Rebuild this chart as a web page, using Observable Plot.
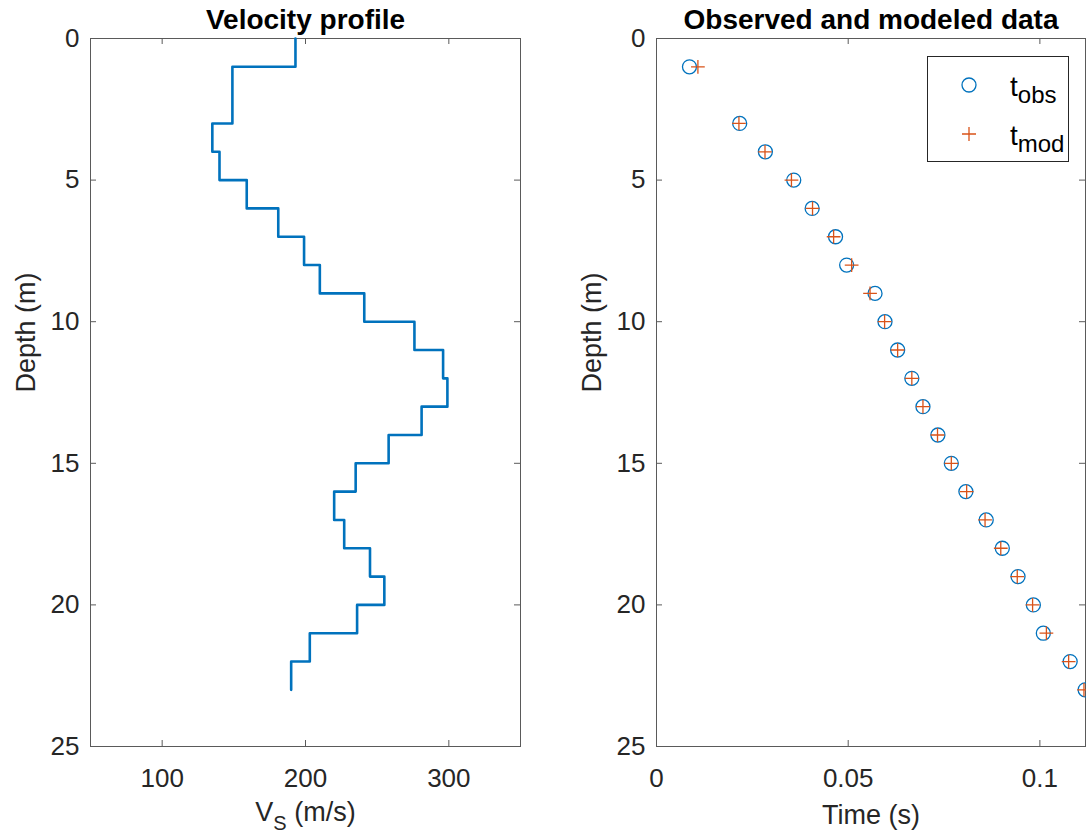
<!DOCTYPE html>
<html>
<head>
<meta charset="utf-8">
<script src="https://cdn.jsdelivr.net/npm/d3@7"></script>
<script src="https://cdn.jsdelivr.net/npm/@observablehq/plot@0.6"></script>
<style>
html, body { margin: 0; padding: 0; background: #fff; }
#wrap { position: relative; width: 1086px; height: 836px; overflow: hidden; display: flex; font-family: "Liberation Sans", Arial, sans-serif; }
#wrap > div { flex: none; }
#legend { position: absolute; left: 927px; top: 56px; }
</style>
</head>
<body>
<div id="wrap"><div id="left"></div><div id="right"></div><div id="legend"></div></div>
<script>
// ---- data ----
const layerBoundaries = [0, 1, 3, 4, 5, 6, 7, 8, 9, 10, 11, 12, 13, 14, 15, 16, 17, 18, 19, 20, 21, 22, 23];
const vs = [193, 149, 135, 140, 159, 181, 199, 210, 241, 276, 296, 299, 281, 258, 235, 220, 227, 245, 255, 236, 203, 190];
const obsDepths = [1, 3, 4, 5, 6, 7, 8, 9, 10, 11, 12, 13, 14, 15, 16, 17, 18, 19, 20, 21, 22, 23];
const tObs = [0.0086, 0.0217, 0.0284, 0.0358, 0.0406, 0.0467, 0.0496, 0.0570, 0.0596, 0.0629, 0.0666, 0.0695, 0.0734, 0.0769, 0.0807, 0.0860, 0.0902, 0.0943, 0.0983, 0.1009, 0.1079, 0.1118];
const tMod = [0.0108, 0.0215, 0.0283, 0.0352, 0.0407, 0.0462, 0.0509, 0.0557, 0.0595, 0.0629, 0.0666, 0.0695, 0.0733, 0.0769, 0.0809, 0.0857, 0.0898, 0.0941, 0.0981, 0.1017, 0.1075, 0.1115];
const depthTicks = [0, 5, 10, 15, 20, 25];
const vsTicks = [100, 200, 300];
const timeTicks = [0, 0.05, 0.1];
const titles = ["Velocity profile", "Observed and modeled data"];
const yLabel = "Depth (m)";
const xLabels = ["VS (m/s)", "Time (s)"];
const legendLabels = [["t", "obs"], ["t", "mod"]];

// ---- styling ----
const BLUE = "#0072BD", ORANGE = "#D95319", AXIS = "#262626", FRAME = "#5a5a5a";
const W = 543, H = 836, MT = 38, MB = 90;
const PH = H - MT - MB;

const profile = [];
vs.forEach((v, i) => {
  profile.push({v, d: layerBoundaries[i]});
  profile.push({v, d: layerBoundaries[i + 1]});
});
const times = obsDepths.map((d, i) => ({d, obs: tObs[i], mod: tMod[i]}));

function panel({ml, mr, xDomain, xTicks, title, xLabel, xLabelDy, data}) {
  const PW = W - ml - mr;
  return Plot.plot({
    width: W, height: H,
    marginLeft: ml, marginRight: mr, marginTop: MT, marginBottom: MB,
    style: {fontFamily: "'Liberation Sans', Arial, sans-serif", fontSize: "26px", color: AXIS, background: "white", overflow: "visible"},
    x: {domain: xDomain, label: null},
    y: {domain: [0, 25], reverse: true, label: null},
    marks: [
      Plot.frame({stroke: FRAME, strokeWidth: 1}),
      Plot.tickX(xTicks, {x: d => d, stroke: FRAME, insetTop: PH - 6}),
      Plot.tickX(xTicks, {x: d => d, stroke: FRAME, insetBottom: PH - 6}),
      Plot.tickY(depthTicks, {y: d => d, stroke: FRAME, insetRight: PW - 6}),
      Plot.tickY(depthTicks, {y: d => d, stroke: FRAME, insetLeft: PW - 6}),
      Plot.axisX({ticks: xTicks, tickFormat: d => String(d), tickSize: 0, tickPadding: 22, fontSize: 26, label: null}),
      Plot.axisY({ticks: depthTicks, tickFormat: d => String(d), tickSize: 0, tickPadding: 11, fontSize: 26, label: null}),
      Plot.text([title], {frameAnchor: "top", dy: -10, lineAnchor: "bottom", fontSize: 28, fontWeight: "bold", fill: "#000"}),
      Plot.text([yLabel], {frameAnchor: "left", dx: -75, rotate: -90, lineAnchor: "top", fontSize: 27, fill: AXIS}),
      Plot.text([xLabel], {frameAnchor: "bottom", dy: xLabelDy, lineAnchor: "bottom", fontSize: 27, fill: AXIS}),
      ...data
    ]
  });
}

const left = panel({
  ml: 90, mr: 23, xDomain: [50, 350], xTicks: vsTicks, title: titles[0], xLabel: xLabels[0], xLabelDy: 74,
  data: [Plot.line(profile, {x: "v", y: "d", stroke: BLUE, strokeWidth: 2.6, curve: "linear"})]
});
// subscript for V_S
(() => {
  const t = [...left.querySelectorAll("text")].find(e => e.textContent === xLabels[0]);
  if (t) {
    t.textContent = "";
    const ns = "http://www.w3.org/2000/svg";
    const a = document.createElementNS(ns, "tspan"); a.textContent = "V";
    const b = document.createElementNS(ns, "tspan"); b.textContent = "S"; b.setAttribute("dy", "9"); b.setAttribute("font-size", "20");
    const c = document.createElementNS(ns, "tspan"); c.textContent = " (m/s)"; c.setAttribute("dy", "-9");
    t.append(a, b, c);
  }
})();
document.getElementById("left").append(left);

const right = panel({
  ml: 113, mr: 1, xDomain: [0, 0.1119], xTicks: timeTicks, title: titles[1], xLabel: xLabels[1], xLabelDy: 77,
  data: [
    Plot.dot(times, {x: "obs", y: "d", r: 7, stroke: BLUE, strokeWidth: 1.3, fill: "none"}),
    Plot.dot(times, {x: "mod", y: "d", symbol: "plus", r: 4.5, stroke: ORANGE, strokeWidth: 1.3})
  ]
});
document.getElementById("right").append(right);

// legend
(() => {
  const svg = d3.select("#legend").append("svg").attr("width", 143).attr("height", 107)
    .style("font-family", "'Liberation Sans', Arial, sans-serif");
  svg.append("rect").attr("x", 0.5).attr("y", 0.5).attr("width", 141).attr("height", 105)
    .attr("fill", "white").attr("stroke", AXIS).attr("stroke-width", 1);
  svg.append("circle").attr("cx", 42).attr("cy", 29).attr("r", 7).attr("fill", "none").attr("stroke", BLUE).attr("stroke-width", 1.3);
  svg.append("path").attr("d", "M35,78H49M42,71V85").attr("stroke", ORANGE).attr("stroke-width", 1.3);
  legendLabels.forEach(([main, sub], i) => {
    const t = svg.append("text").attr("x", 83).attr("y", 40 + i * 49).attr("font-size", 28).attr("fill", "#000");
    t.append("tspan").text(main);
    t.append("tspan").attr("dy", 7).attr("font-size", 24).text(sub);
  });
})();
</script>
</body>
</html>
